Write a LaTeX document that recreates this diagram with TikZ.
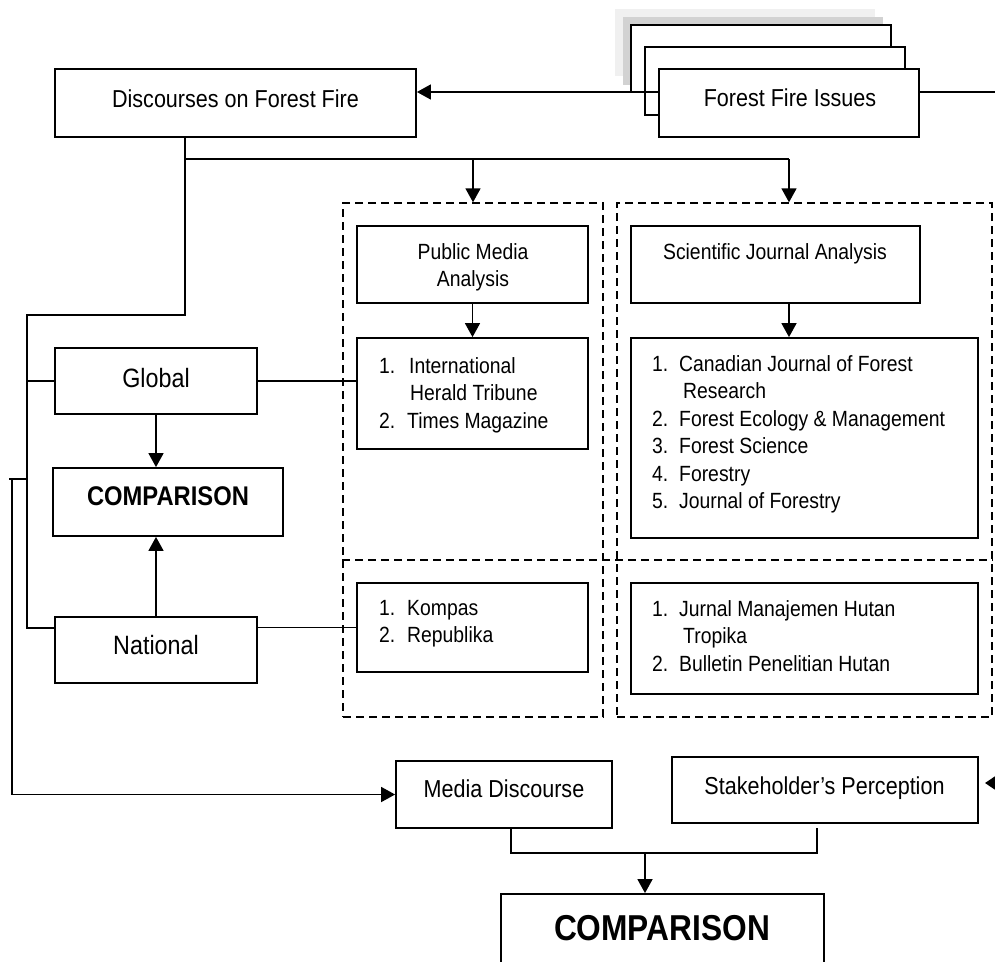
\documentclass[tikz,border=0pt]{standalone}
\usepackage{fontspec}
\setmainfont{Liberation Sans}[FakeStretch=0.88]
\usetikzlibrary{arrows.meta}
\begin{document}
\begin{tikzpicture}[x=1pt,y=-1pt,
  box/.style={draw, line width=1.8pt, fill=white, inner sep=0pt},
  dbox/.style={draw, line width=1.4pt, dash pattern=on 8pt off 5pt, inner sep=0pt},
  txt/.style={inner sep=0pt, anchor=base, font=\fontsize{24.5}{29}\selectfont},
  bigtxt/.style={inner sep=0pt, anchor=base, font=\fontsize{26.5}{32}\selectfont},
  stxt/.style={inner sep=0pt, font=\fontsize{22}{27.5}\selectfont},
  conn/.style={line width=1.6pt},
  arr/.style={conn, -{Triangle[length=14pt,width=15pt]}},
]
\path[use as bounding box] (0,0) rectangle (995,961);
\clip (0,0) rectangle (995,961);

% stacked Forest Fire Issues
\fill[gray!12] (615,9) rectangle (875,76);
\fill[gray!35] (623,17) rectangle (883,85);
\node[box, minimum width=260pt, minimum height=67pt] (ffiA) at (761,58.5) {};
\node[box, minimum width=260pt, minimum height=68pt] (ffiB) at (775,81) {};
\node[box, minimum width=260pt, minimum height=68pt] (ffi) at (789,103) {};
\node[txt] (ffit) at (790,106) {Forest Fire Issues};

% Discourses
\node[box, minimum width=361pt, minimum height=68pt] (disc) at (235.5,103) {};
\node[txt] (disct) at (235.5,107) {Discourses on Forest Fire};

% dashed groups
\node[dbox, minimum width=260pt, minimum height=514pt] (dashL) at (473,460) {};
\node[dbox, minimum width=375pt, minimum height=514pt] (dashR) at (804.5,460) {};
\coordinate (mid) at (0,560);
\draw[line width=1.4pt, dash pattern=on 8pt off 5pt] (dashL.west |- mid) -- (dashR.east |- mid);

% left column
\node[box, minimum width=202pt, minimum height=66pt] (global) at (156,381) {};
\node[bigtxt] (globalt) at (156,387.5) {Global};
\node[box, minimum width=230pt, minimum height=68pt] (comp1) at (168,502) {};
\node[txt, font=\fontsize{27}{32}\selectfont\bfseries] (comp1t) at (168,505.7) {COMPARISON};
\node[box, minimum width=202pt, minimum height=66pt] (national) at (156,650) {};
\node[bigtxt] (nationalt) at (156,654.5) {National};

% public media column
\node[box, minimum width=231pt, minimum height=77pt] (pma) at (472.5,264.5) {};
\node[stxt, anchor=north, align=center] (pmat) at (473,243) {Public Media\\Analysis};
\node[box, minimum width=231pt, minimum height=111pt] (list1) at (472.5,393.5) {};
\node[stxt, anchor=north west, align=left] (list1t) at (379,357)
  {\makebox[30pt][l]{1.}International\\\hspace*{31pt}Herald Tribune\\\makebox[28pt][l]{2.}Times Magazine};
\node[box, minimum width=231pt, minimum height=89pt] (kompas) at (472.5,627.5) {};
\node[stxt, anchor=north west, align=left] (kompast) at (379,600)
  {\makebox[28pt][l]{1.}Kompas\\\makebox[28pt][l]{2.}Republika};

% scientific journal column
\node[box, minimum width=289pt, minimum height=77pt] (sja) at (775.5,264.5) {};
\node[txt, font=\fontsize{22}{27.5}\selectfont] (sjat) at (775,259) {Scientific Journal Analysis};
\node[box, minimum width=347pt, minimum height=200pt] (list2) at (804.5,438) {};
\node[stxt, anchor=north west, align=left] (list2t) at (652,355)
  {\makebox[27pt][l]{1.}Canadian Journal of Forest\\\hspace*{31pt}Research\\
   \makebox[27pt][l]{2.}Forest Ecology \& Management\\
   \makebox[27pt][l]{3.}Forest Science\\
   \makebox[27pt][l]{4.}Forestry\\
   \makebox[27pt][l]{5.}Journal of Forestry};
\node[box, minimum width=347pt, minimum height=111pt] (jurnal) at (804.5,638.5) {};
\node[stxt, anchor=north west, align=left] (jurnalt) at (652,600)
  {\makebox[27pt][l]{1.}Jurnal Manajemen Hutan\\\hspace*{31pt}Tropika\\
   \makebox[27pt][l]{2.}Bulletin Penelitian Hutan};

% bottom
\node[box, minimum width=216pt, minimum height=67pt] (media) at (504,794.5) {};
\node[txt] (mediat) at (504,797) {Media Discourse};
\node[box, minimum width=306pt, minimum height=66pt] (stake) at (825,790) {};
\node[txt] (staket) at (824.5,794) {Stakeholder’s Perception};
\node[box, minimum width=323pt, minimum height=96pt] (comp2) at (662.5,942) {};
\node[txt, font=\fontsize{36}{42}\selectfont\bfseries] (comp2t) at (662,940) {COMPARISON};

% connectors
\coordinate (a1) at (659,92);
\draw[arr] (a1) -- (a1 -| disc.east);
\coordinate (r1) at (995,92);
\draw[conn] (ffi.east |- r1) -- (r1);

\coordinate (j0) at (185,137);
\coordinate (j1) at (185,159);
\coordinate (j2) at (789,159);
\draw[conn] (j0) -- (j1) -- (j2);
\draw[arr] (dashL.north |- j1) -- (dashL.north);
\draw[arr] (j2) -- (j2 |- dashR.north);
\draw[arr] (pma.south) -- (list1.north);
\coordinate (s1) at (789,303);
\draw[arr] (s1) -- (s1 |- list2.north);

\coordinate (b1) at (185,315);
\coordinate (b2) at (27,315);
\coordinate (b3) at (27,628);
\draw[conn] (j1) -- (b1) -- (b2) -- (b3) -- (b3 -| national.west);
\coordinate (g1) at (27,381);
\draw[conn] (g1) -- (global.west);
\draw[conn] (global.east) -- (global.east -| list1.west);
\draw[conn] (kompas.west) -- (kompas.west -| national.east);
\draw[arr] (global.south) -- (global.south |- comp1.north);
\draw[arr] (national.north) -- (national.north |- comp1.south);

\coordinate (m0) at (9,479);
\coordinate (m1) at (27,479);
\coordinate (m2) at (12,479);
\coordinate (m3) at (12,794.5);
\draw[conn] (m0) -- (m1);
\draw[arr] (m2) -- (m3) -- (media.west);

\coordinate (r2) at (995,783);
\coordinate (r3) at (985,783);
\draw[conn, -{Triangle[length=10pt,width=13pt]}] (r2) -- (r3);

\coordinate (c1) at (511,828);
\coordinate (c2) at (511,853);
\coordinate (c3) at (817,853);
\coordinate (c4) at (817,828);
\coordinate (c5) at (645,853);
\draw[conn] (c1) -- (c2) -- (c3) -- (c4);
\draw[arr] (c5) -- (c5 |- comp2.north);
\end{tikzpicture}
\end{document}
